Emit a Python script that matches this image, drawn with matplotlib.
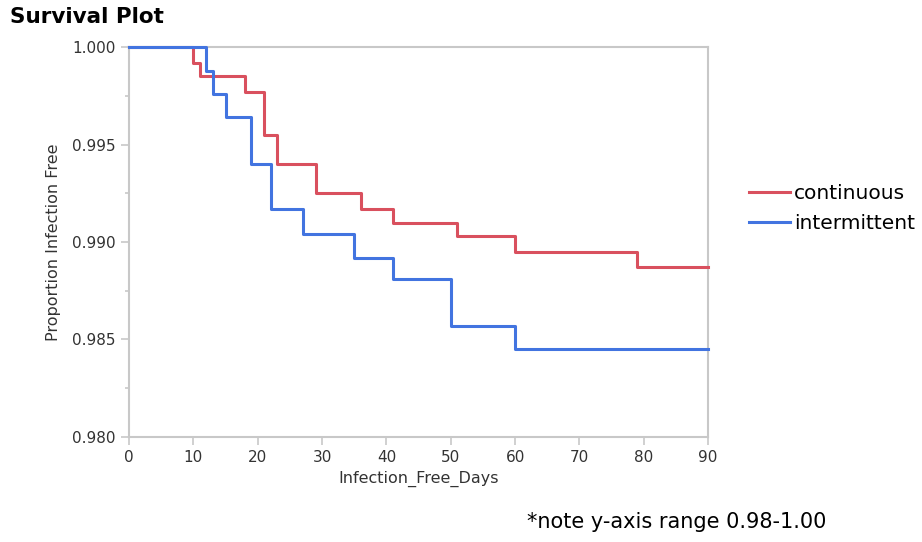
import matplotlib
matplotlib.use("Agg")
import matplotlib.pyplot as plt
from matplotlib.ticker import MultipleLocator

# step points (day, proportion infection free)
cont_days = [0, 10, 11, 18, 21, 23, 29, 36, 41, 51, 60, 79, 90]
cont_surv = [1.0, 0.9992, 0.9985, 0.9977, 0.9955, 0.9940, 0.9925, 0.9917,
             0.9910, 0.9903, 0.9895, 0.9887, 0.9887]
inter_days = [0, 12, 13, 15, 19, 22, 27, 35, 41, 50, 60, 90]
inter_surv = [1.0, 0.9988, 0.9976, 0.9964, 0.9940, 0.9917, 0.9904, 0.9892,
              0.9881, 0.9857, 0.9845, 0.9845]

x_ticks = [0, 10, 20, 30, 40, 50, 60, 70, 80, 90]
y_ticks = [0.980, 0.985, 0.990, 0.995, 1.000]

red = "#d9505e"
blue = "#4274e0"
grey = "#c8c8c8"

fig = plt.figure(figsize=(9.22, 5.42), dpi=100)
ax = fig.add_axes([0.140, 0.194, 0.628, 0.719])

ax.step(cont_days, cont_surv, where="post", color=red, lw=2.2,
        label="continuous", clip_on=False, zorder=3)
ax.step(inter_days, inter_surv, where="post", color=blue, lw=2.2,
        label="intermittent", clip_on=False, zorder=4)

ax.set_xlim(0, 90)
ax.set_ylim(0.980, 1.000)
ax.set_xticks(x_ticks)
ax.set_yticks(y_ticks)
ax.set_yticklabels(["%.3f" % v for v in y_ticks])
ax.yaxis.set_minor_locator(MultipleLocator(0.0025))

for s in ax.spines.values():
    s.set_color(grey)
    s.set_linewidth(1.5)
ax.tick_params(which="both", direction="out", color=grey, width=1.2,
               labelsize=11, labelcolor="#333333")
ax.tick_params(which="major", length=6)
ax.tick_params(which="minor", length=3)

ax.set_xlabel("Infection_Free_Days", fontsize=11.5, color="#333333", labelpad=4)
ax.set_ylabel("Proportion Infection Free", fontsize=11.5, color="#333333", labelpad=8)

fig.text(0.011, 0.968, "Survival Plot", fontsize=15.5, fontweight="bold", va="center")

ax.legend(loc="center left", bbox_to_anchor=(1.04, 0.585), frameon=False,
          fontsize=14.5, handlelength=2.0, handletextpad=0.2, labelspacing=0.55)

fig.text(0.572, 0.037, "*note y-axis range 0.98-1.00", fontsize=15, va="center")

fig.savefig("out.png", dpi=100)
